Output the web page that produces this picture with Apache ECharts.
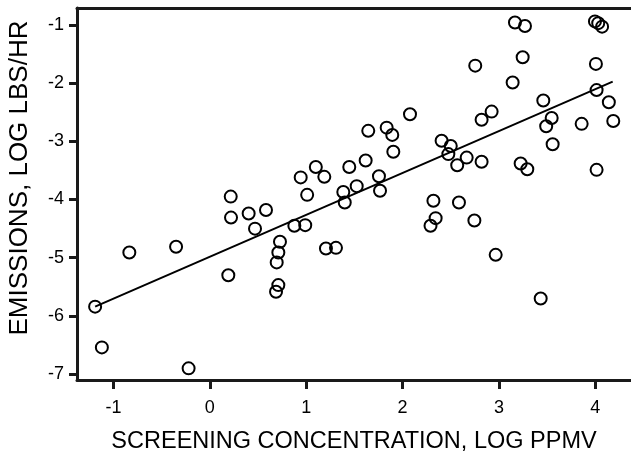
<!DOCTYPE html>
<html lang="en">
<head>
    <meta charset="UTF-8">
    <title>Emissions vs screening concentration</title>
    <script src="https://cdn.jsdelivr.net/npm/echarts@6/dist/echarts.min.js"></script>
    <style>
        html, body { margin: 0; padding: 0; background: #fff; }
    </style>
</head>
<body>
<div id="scatterChart" style="width: 631px;height: 461px;"></div>

<script>
    // screening concentration (log ppmv)
    let concX = [-1.19, -1.12, -0.835, -0.35, -0.22, 0.192, 0.217, 0.22, 0.403, 0.469,
        0.583, 0.687, 0.711, 0.694, 0.711, 0.728, 0.877, 0.99, 0.943, 1.01,
        1.10, 1.188, 1.205, 1.309, 1.385, 1.40, 1.447, 1.524, 1.617, 1.644,
        1.755, 1.766, 1.835, 1.893, 1.904, 2.077, 2.29, 2.32, 2.343, 2.405,
        2.475, 2.50, 2.567, 2.585, 2.665, 2.745, 2.754, 2.82, 2.82, 2.924,
        2.966, 3.142, 3.166, 3.225, 3.246, 3.27, 3.294, 3.433, 3.46, 3.49,
        3.547, 3.557, 3.858, 3.996, 4.03, 4.07, 4.006, 4.013, 4.013, 4.14, 4.186];
    // emissions (log lbs/hr)
    let emisY = [-5.84, -6.54, -4.91, -4.81, -6.90, -5.30, -3.95, -4.31, -4.24, -4.50,
        -4.18, -5.585, -5.47, -5.08, -4.91, -4.725, -4.45, -4.44, -3.62, -3.92,
        -3.44, -3.61, -4.84, -4.83, -3.87, -4.05, -3.44, -3.77, -3.33, -2.82,
        -3.60, -3.85, -2.765, -2.89, -3.18, -2.535, -4.45, -4.02, -4.32, -2.99,
        -3.22, -3.08, -3.41, -4.05, -3.28, -4.36, -1.70, -2.63, -3.35, -2.49,
        -4.95, -1.99, -0.96, -3.38, -1.555, -1.02, -3.48, -5.70, -2.30, -2.74,
        -2.60, -3.05, -2.70, -0.94, -0.97, -1.03, -1.67, -2.12, -3.49, -2.33, -2.65];
    // fitted line end points
    let fitX = [-1.19, 4.18];
    let fitY = [-5.84, -1.975];
    let xTicks = [-1, 0, 1, 2, 3, 4];
    let yTicks = [-7, -6, -5, -4, -3, -2, -1];

    let points = concX.map(function (x, i) { return [x, emisY[i]]; });
    let fitLine = fitX.map(function (x, i) { return [x, fitY[i]]; });

    let axisLine = {onZero: false, lineStyle: {color: '#1a1a1a', width: 3}};
    let labelFont = {color: '#000', fontFamily: 'Liberation Sans, Arial, sans-serif', fontSize: 18};

    let chart = echarts.init(document.getElementById('scatterChart'));
    let option = {
        animation: false,
        grid: {left: 77, right: 0, top: 8, bottom: 81, containLabel: false, outerBoundsMode: 'none'},
        xAxis: [{
            type: 'value',
            min: -1.378,
            max: 4.37,
            axisLine: axisLine,
            axisTick: {show: true, inside: false, length: 9, customValues: xTicks, lineStyle: {color: '#1a1a1a', width: 3}},
            axisLabel: Object.assign({
                margin: 19,
                customValues: xTicks,
                formatter: function (v) { return String(v); }
            }, labelFont),
            splitLine: {show: false},
            name: 'SCREENING CONCENTRATION, LOG PPMV',
            nameLocation: 'middle',
            nameGap: 50,
            nameTextStyle: {color: '#000', fontFamily: 'Liberation Sans, Arial, sans-serif', fontSize: 23.5}
        }, {
            type: 'value',
            position: 'top',
            min: -1.378,
            max: 4.37,
            axisLine: axisLine,
            axisTick: {show: false},
            axisLabel: {show: false},
            splitLine: {show: false}
        }],
        yAxis: {
            type: 'value',
            min: -7.1,
            max: -0.71,
            axisLine: axisLine,
            axisTick: {show: true, inside: false, length: 8, customValues: yTicks, lineStyle: {color: '#1a1a1a', width: 3}},
            axisLabel: Object.assign({
                margin: 13,
                customValues: yTicks,
                formatter: function (v) { return String(v); }
            }, labelFont),
            splitLine: {show: false},
            name: 'EMISSIONS, LOG LBS/HR',
            nameLocation: 'middle',
            nameGap: 44,
            nameRotate: 90,
            nameTextStyle: {color: '#000', fontFamily: 'Liberation Sans, Arial, sans-serif', fontSize: 26, padding: [0, 0, 0, 32]}
        },
        series: [{
            type: 'line',
            data: fitLine,
            symbol: 'none',
            lineStyle: {color: '#000', width: 2}
        }, {
            type: 'scatter',
            data: points,
            symbol: 'circle',
            symbolSize: 12,
            itemStyle: {color: 'rgba(0,0,0,0)', borderColor: '#000', borderWidth: 2, opacity: 1}
        }]
    };
    chart.setOption(option);
</script>
</body>
</html>
